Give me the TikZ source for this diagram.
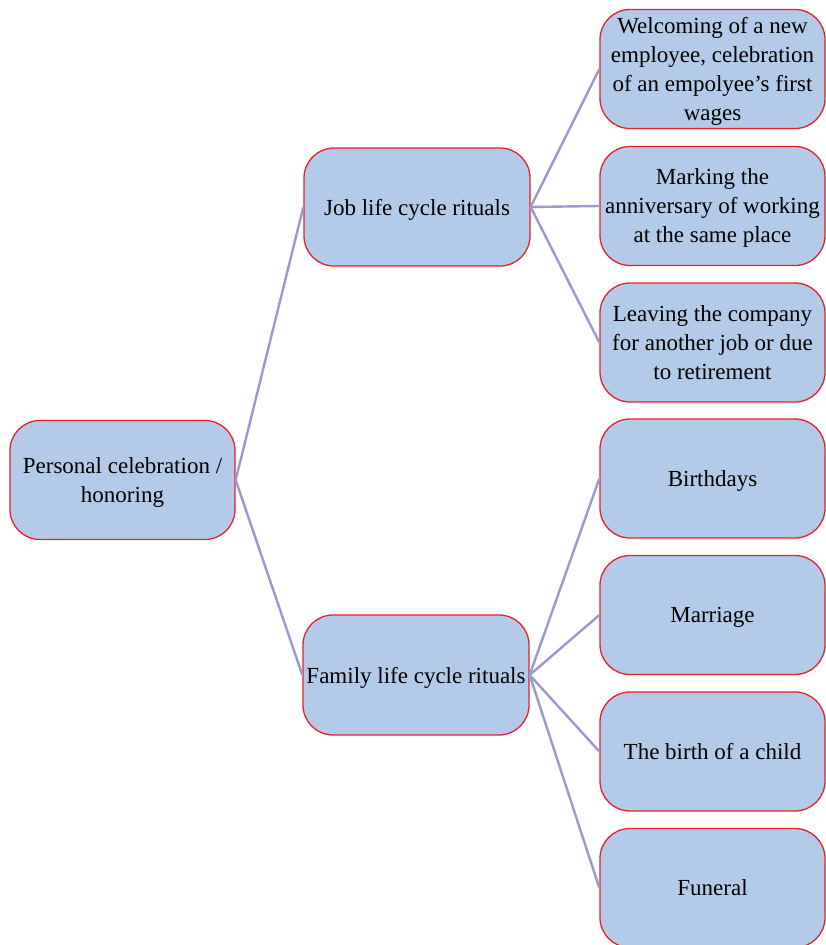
\documentclass[tikz,border=0pt]{standalone}
\usepackage{fontspec}
\setmainfont{Liberation Serif}
\definecolor{boxfill}{HTML}{B3CBE8}
\definecolor{boxdraw}{HTML}{E8202A}
\definecolor{linkcol}{HTML}{9A9ACC}
\begin{document}
\begin{tikzpicture}[x=1pt,y=-1pt,
  box/.style={draw=boxdraw, fill=boxfill, line width=1.3pt, rounded corners=30pt,
    minimum width=225pt, minimum height=119pt, inner sep=0pt, align=center,
    text depth=0pt, font=\fontsize{23}{29}\selectfont},
  link/.style={draw=linkcol, line width=2.4pt}]
\useasboundingbox (0,0) rectangle (825,945);
\node[box] (root) at (122.5,480) {Personal celebration /\\honoring};
\node[box, minimum width=226pt, minimum height=118pt] (job) at (417,207) {Job life cycle rituals};
\node[box, minimum width=226pt, minimum height=120pt] (fam) at (416,675) {Family life cycle rituals};
\node[box] (c1) at (712.5,69) {Welcoming of a new\\employee, celebration\\of an empolyee’s first\\wages};
\node[box] (c2) at (712.5,206) {Marking the\\anniversary of working\\at the same place};
\node[box] (c3) at (712.5,342.5) {Leaving the company\\for another job or due\\to retirement};
\node[box] (c4) at (712.5,478.5) {Birthdays};
\node[box] (c5) at (712.5,615) {Marriage};
\node[box] (c6) at (712.5,751.5) {The birth of a child};
\node[box] (c7) at (712.5,888) {Funeral};
\draw[link] (root.east) -- (job.west);
\draw[link] (root.east) -- (fam.west);
\foreach \c in {c1,c2,c3} \draw[link] (job.east) -- (\c.west);
\foreach \c in {c4,c5,c6,c7} \draw[link] (fam.east) -- (\c.west);
\end{tikzpicture}
\end{document}
